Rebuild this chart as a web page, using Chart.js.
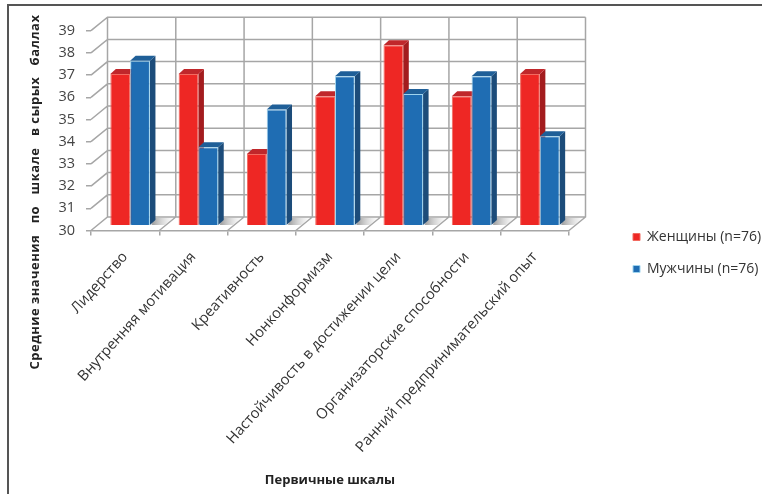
<!DOCTYPE html>
<html>
<head>
<meta charset="utf-8">
<style>
  html, body { margin: 0; padding: 0; background: #fff; overflow: hidden; }
  #frame { position: absolute; left: 7px; top: 4px; width: 800px; height: 600px; border: 2px solid #555; }
  #scales { position: absolute; left: 0; top: 0; }
</style>
</head>
<body>
<div id="frame"></div>
<canvas id="scales" width="762" height="494"></canvas>
<script src="https://cdn.jsdelivr.net/npm/chart.js@4/dist/chart.umd.js"></script>
<script>
const categories = [
  'Лидерство',
  'Внутренняя мотивация',
  'Креативность',
  'Нонконформизм',
  'Настойчивость в достижении цели',
  'Организаторские способности',
  'Ранний предпринимательский опыт'
];
const women = [36.8, 36.8, 33.2, 35.8, 38.1, 35.8, 36.8];
const men = [37.4, 33.5, 35.2, 36.7, 35.9, 36.7, 34.0];
const yTicks = [30, 31, 32, 33, 34, 35, 36, 37, 38, 39];

const fontName = '"Open Sans", sans-serif';
const gridColor = '#a6a6a6';

// глубина "коробки" и глубина самих столбиков
const boxDepth = { x: 16.5, y: 13.5 };
const barShift = { x: 5, y: 5.5 };
const barDepth = { x: 5.5, y: 5 };

function poly(ctx, points, fill) {
  ctx.beginPath();
  points.forEach((p, i) => i ? ctx.lineTo(p[0], p[1]) : ctx.moveTo(p[0], p[1]));
  ctx.closePath();
  ctx.fillStyle = fill;
  ctx.fill();
}

// задняя стенка, левая стенка и пол
function drawBox(chart) {
  const ctx = chart.ctx;
  const a = chart.chartArea;
  const ys = chart.scales.y;
  const dx = boxDepth.x, dy = boxDepth.y;
  ctx.save();
  ctx.strokeStyle = gridColor;
  ctx.lineWidth = 1.5;
  ctx.beginPath();
  yTicks.forEach(v => {
    const y = ys.getPixelForValue(v);
    ctx.moveTo(a.left, y);
    ctx.lineTo(a.left + dx, y - dy);
    ctx.lineTo(a.right + dx, y - dy);
  });
  categories.forEach((c, i) => {
    const x = a.left + (a.right - a.left) * i / categories.length;
    ctx.moveTo(x, a.bottom);
    ctx.lineTo(x + dx, a.bottom - dy);
    ctx.lineTo(x + dx, a.top - dy);
  });
  ctx.moveTo(a.right, a.bottom);
  ctx.lineTo(a.right + dx, a.bottom - dy);
  ctx.lineTo(a.right + dx, a.top - dy);
  ctx.stroke();
  ctx.restore();
}

// тень на полу справа от каждой пары
function drawShadows(chart) {
  const ctx = chart.ctx;
  const base = chart.chartArea.bottom;
  chart.getDatasetMeta(1).data.forEach(bar => {
    const x1 = bar.x + bar.width / 2 + barDepth.x;
    const g = ctx.createLinearGradient(x1 - 2, 0, x1 + 19, 0);
    g.addColorStop(0, 'rgba(120,120,120,0.65)');
    g.addColorStop(1, 'rgba(200,200,200,0)');
    poly(ctx, [[x1 - 4, base], [x1 + 9, base], [x1 + 18, base - 7], [x1 - 2, base - 7]], g);
  });
}

// верхняя и боковая грани столбиков
function drawFaces(chart) {
  const ctx = chart.ctx;
  const base = chart.chartArea.bottom;
  const dx = barDepth.x, dy = barDepth.y;
  chart.data.datasets.forEach((ds, i) => {
    chart.getDatasetMeta(i).data.forEach(bar => {
      const x0 = bar.x - bar.width / 2;
      const x1 = bar.x + bar.width / 2;
      poly(ctx, [[x1, bar.y], [x1 + dx, bar.y - dy], [x1 + dx, base - dy], [x1, base]], ds.sideColor);
      poly(ctx, [[x0, bar.y], [x0 + dx, bar.y - dy], [x1 + dx, bar.y - dy], [x1, bar.y]], ds.topColor);
    });
  });
}

const box3d = {
  id: 'box3d',
  afterLayout(chart) {
    // легенда стоит справа от графика, вне области построения
    const lg = chart.legend;
    lg.left = 615;
    lg.top = 212;
    lg.right = 762;
    lg.bottom = 300;
  },
  beforeDatasetsDraw(chart) {
    drawBox(chart);
    chart.ctx.save();
    chart.ctx.translate(barShift.x, -barShift.y);
    drawShadows(chart);
    drawFaces(chart);
  },
  afterDatasetsDraw(chart) {
    chart.ctx.restore();
  },
  afterDraw(chart) {
    const ctx = chart.ctx;
    ctx.save();
    ctx.translate(35, 192);
    ctx.rotate(-Math.PI / 2);
    ctx.font = 'bold 13px ' + fontName;
    ctx.letterSpacing = '0.45px';
    ctx.fillStyle = '#222';
    ctx.textAlign = 'center';
    ctx.textBaseline = 'middle';
    ctx.fillText('Средние значения   по   шкале   в сырых   баллах', 0, 0);
    ctx.restore();
  }
};

new Chart(document.getElementById('scales'), {
  type: 'bar',
  data: {
    labels: categories,
    datasets: [{
      label: 'Женщины (n=76)',
      data: women,
      backgroundColor: '#ee2724',
      borderColor: '#f26a60',
      borderWidth: 1,
      sideColor: '#a31c1e',
      topColor: '#c0272b'
    }, {
      label: 'Мужчины (n=76)',
      data: men,
      backgroundColor: '#1f6db3',
      borderColor: '#9fd4ee',
      borderWidth: 1,
      sideColor: '#1c4c7a',
      topColor: '#1f5f98'
    }]
  },
  options: {
    responsive: false,
    animation: false,
    layout: { padding: { left: 0, top: 30.7, right: 193, bottom: 0 } },
    datasets: { bar: { categoryPercentage: 0.58, barPercentage: 1 } },
    plugins: {
      tooltip: { enabled: false },
      legend: {
        position: 'chartArea',
        align: 'start',
        labels: {
          boxWidth: 7,
          boxHeight: 7,
          padding: 18,
          color: '#333',
          font: { family: fontName, size: 14 }
        }
      }
    },
    scales: {
      x: {
        afterFit(scale) { scale.height = 263.5; },
        grid: { drawOnChartArea: false, offset: true, color: gridColor, lineWidth: 1.5, tickLength: 5 },
        border: { display: true, color: gridColor, width: 1.5 },
        ticks: {
          autoSkip: false,
          minRotation: 48,
          maxRotation: 48,
          color: '#333',
          padding: 13,
          font: { family: fontName, size: 14.7 }
        },
        title: {
          display: true,
          text: 'Первичные шкалы',
          color: '#222',
          padding: { top: 0, bottom: 6 },
          font: { family: fontName, size: 13, weight: 'bold' }
        }
      },
      y: {
        min: 30,
        max: 39,
        afterFit(scale) { scale.width = 91; },
        afterBuildTicks(scale) { scale.ticks = yTicks.map(v => ({ value: v })); },
        grid: { drawOnChartArea: false, color: gridColor, lineWidth: 1.5, tickLength: 5 },
        border: { display: false },
        ticks: {
          color: '#444',
          padding: 11,
          font: { family: fontName, size: 14.5 }
        }
      }
    }
  },
  plugins: [box3d]
});
</script>
</body>
</html>
